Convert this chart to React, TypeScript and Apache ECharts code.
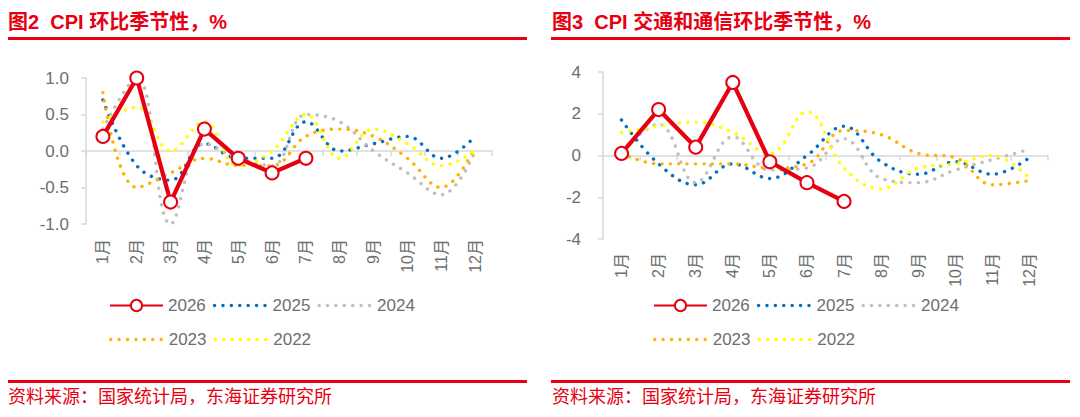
import React, { useEffect, useRef } from "react";
import * as echarts from "echarts";

const months = ["1月", "2月", "3月", "4月", "5月", "6月", "7月", "8月", "9月", "10月", "11月", "12月"];
const years = ["2026", "2025", "2024", "2023", "2022"];

// 图2 CPI 环比季节性，%
const cpi2026 = [0.2, 1.0, -0.7, 0.3, -0.1, -0.3, -0.1];
const cpi2025 = [0.7, -0.2, -0.4, 0.1, -0.1, -0.1, 0.4, 0.0, 0.1, 0.2, -0.1, 0.2];
const cpi2024 = [0.3, 1.0, -1.0, 0.1, -0.1, -0.2, 0.5, 0.4, 0.0, -0.3, -0.6, 0.0];
const cpi2023 = [0.8, -0.5, -0.3, -0.1, -0.2, -0.2, 0.2, 0.3, 0.2, -0.1, -0.5, 0.05];
const cpi2022 = [0.4, 0.6, 0.0, 0.4, -0.2, 0.0, 0.5, -0.1, 0.3, 0.1, -0.2, 0.0];

// 图3 CPI 交通和通信环比季节性，%
const tc2026 = [0.1, 2.2, 0.4, 3.5, -0.3, -1.3, -2.2];
const tc2025 = [1.7, -0.4, -1.4, -0.4, -1.1, 0.0, 1.4, -0.3, -0.9, -0.3, -0.9, -0.1];
const tc2024 = [0.2, 1.5, -1.3, 0.9, -0.7, -0.6, 0.8, -1.1, -1.3, -0.7, -0.2, 0.3];
const tc2023 = [0.1, -0.4, -0.4, -0.4, -0.6, -0.4, 1.2, 1.0, 0.1, -0.1, -1.4, -1.2];
const tc2022 = [1.1, 1.4, 1.6, 1.1, 0.1, 2.1, -0.6, -1.6, -0.6, -0.4, 0.0, -1.1];

const title1 = "图2  CPI 环比季节性，%";
const title2 = "图3  CPI 交通和通信环比季节性，%";
const source = "资料来源：国家统计局，东海证券研究所";

const RED = "#E60012";
const colors = [RED, "#0070C0", "#BFBFBF", "#FFB300", "#FFFF00"];
const FONT = '"Liberation Sans", Arial, "Noto Sans CJK SC", sans-serif';
const AXIS = "#D9D9D9";
const LABEL = "#6E6E6E";
const DOTS = [0.1, 8.3];

export default function App() {
  const ref = useRef<HTMLDivElement>(null);
  useEffect(() => {
    document.body.style.margin = "0";
    const chart = echarts.init(ref.current!, null, { renderer: "svg" });

    const makeSeries = (gi: number, data: number[][]) =>
      data.map((d, i) => {
        const base: any = {
          name: years[i],
          type: "line",
          xAxisIndex: gi * 2,
          yAxisIndex: gi,
          data: d,
          color: colors[i],
        };
        if (i === 0) {
          return {
            ...base,
            z: 5,
            symbol: "emptyCircle",
            symbolSize: 13,
            showSymbol: true,
            lineStyle: { color: RED, width: 4.2 },
            itemStyle: { color: RED, borderColor: RED, borderWidth: 2 },
          };
        }
        return {
          ...base,
          z: 2,
          symbol: "none",
          smooth: 0.4,
          lineStyle: { color: colors[i], width: 3.4, type: DOTS, cap: "round" },
        };
      });

    const labelAxis = (gi: number) => ({
      type: "category",
      gridIndex: gi,
      data: months,
      position: "bottom",
      axisLine: { show: false, onZero: false },
      axisTick: { show: false },
      axisLabel: {
        rotate: 90,
        margin: gi === 0 ? 15 : 14,
        fontSize: 16,
        color: LABEL,
        fontFamily: FONT,
        interval: 0,
      },
    });
    const lineAxis = (gi: number) => ({
      type: "category",
      gridIndex: gi,
      data: months,
      position: "top",
      axisLine: { show: true, onZero: true, lineStyle: { color: AXIS, width: 1.5 } },
      axisTick: { show: true, inside: true, length: 5, interval: 0, lineStyle: { color: AXIS, width: 1.5 } },
      axisLabel: { show: false },
    });

    const legendItem = (name: string) => {
      const i = years.indexOf(name);
      return i === 0
        ? { name }
        : {
            name,
            itemStyle: { color: "rgba(0,0,0,0)", borderWidth: 0, opacity: 0 },
            lineStyle: { color: colors[i], width: 3.4, type: DOTS, cap: "round" },
          };
    };

    const legendBase = {
      padding: 0,
      itemWidth: 53,
      itemHeight: 14,
      itemGap: 7,
      textStyle: { fontSize: 17, color: LABEL, fontFamily: FONT },
    };

    chart.setOption({
      animation: false,
      grid: [
        { left: 86, top: 78, width: 406, height: 146 },
        { left: 603, top: 72, width: 445, height: 167 },
      ],
      xAxis: [labelAxis(0), lineAxis(0), labelAxis(1), lineAxis(1)],
      yAxis: [
        {
          type: "value",
          gridIndex: 0,
          min: -1,
          max: 1,
          interval: 0.5,
          axisLine: { show: true, lineStyle: { color: AXIS, width: 1.5 } },
          axisTick: { show: true, length: 5, lineStyle: { color: AXIS, width: 1.5 } },
          splitLine: { show: false },
          axisLabel: {
            margin: 17,
            fontSize: 17,
            color: LABEL,
            fontFamily: FONT,
            formatter: (v: number) => v.toFixed(1),
          },
        },
        {
          type: "value",
          gridIndex: 1,
          min: -4,
          max: 4,
          interval: 2,
          axisLine: { show: true, lineStyle: { color: AXIS, width: 1.5 } },
          axisTick: { show: true, length: 5, lineStyle: { color: AXIS, width: 1.5 } },
          splitLine: { show: false },
          axisLabel: { margin: 22, fontSize: 17, color: LABEL, fontFamily: FONT },
        },
      ],
      legend: [
        { ...legendBase, left: 109, top: 297, data: years.slice(0, 3).map(legendItem) },
        { ...legendBase, left: 109, top: 331, data: years.slice(3).map(legendItem) },
        { ...legendBase, left: 653, top: 297, data: years.slice(0, 3).map(legendItem) },
        { ...legendBase, left: 653, top: 331, data: years.slice(3).map(legendItem) },
      ],
      series: [
        ...makeSeries(0, [cpi2026, cpi2025, cpi2024, cpi2023, cpi2022]),
        ...makeSeries(1, [tc2026, tc2025, tc2024, tc2023, tc2022]),
      ],
      graphic: [
        {
          type: "text",
          x: 8,
          y: 22,
          style: { text: title1, fill: RED, font: `bold 20px ${FONT}`, verticalAlign: "middle" },
        },
        {
          type: "text",
          x: 552,
          y: 22,
          style: { text: title2, fill: RED, font: `bold 20px ${FONT}`, verticalAlign: "middle" },
        },
        { type: "rect", shape: { x: 8, y: 37, width: 519, height: 3 }, style: { fill: RED } },
        { type: "rect", shape: { x: 551, y: 37, width: 519, height: 3 }, style: { fill: RED } },
        { type: "rect", shape: { x: 8, y: 380, width: 519, height: 3 }, style: { fill: RED } },
        { type: "rect", shape: { x: 551, y: 380, width: 519, height: 3 }, style: { fill: RED } },
        {
          type: "text",
          x: 8,
          y: 397,
          style: { text: source, fill: RED, font: `18px ${FONT}`, verticalAlign: "middle" },
        },
        {
          type: "text",
          x: 552,
          y: 397,
          style: { text: source, fill: RED, font: `18px ${FONT}`, verticalAlign: "middle" },
        },
      ],
    });
    return () => chart.dispose();
  }, []);
  return <div ref={ref} style={{ width: 1080, height: 417, background: "#fff" }} />;
}
